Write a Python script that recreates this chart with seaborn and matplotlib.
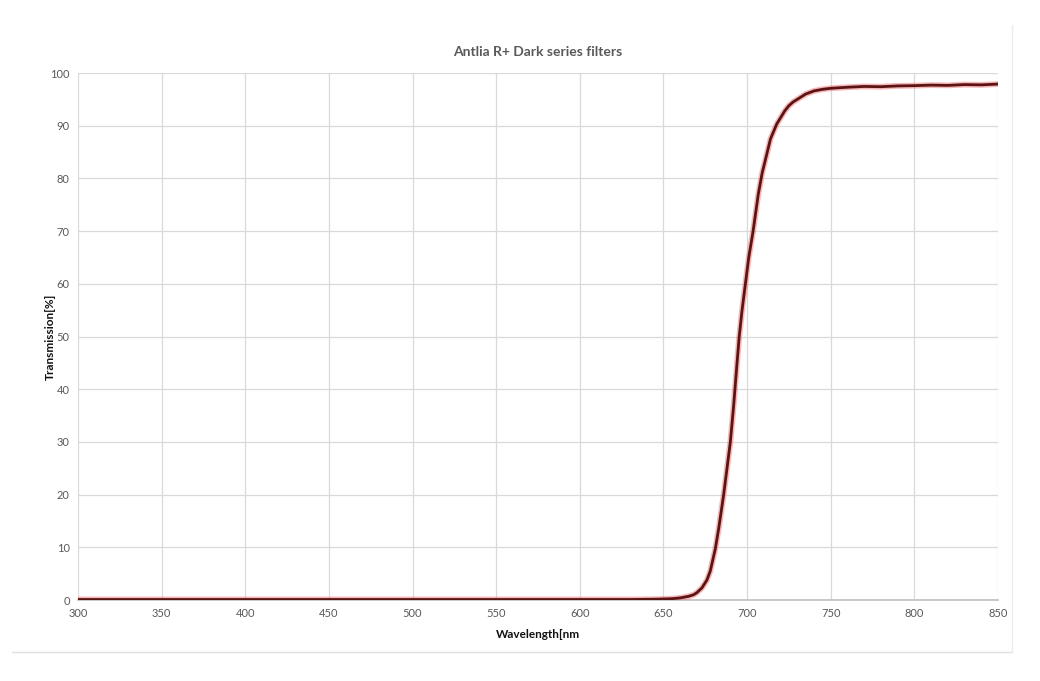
import matplotlib
matplotlib.use("Agg")
import matplotlib.pyplot as plt
import seaborn as sns
import pandas as pd
from matplotlib.lines import Line2D

wavelength = [300, 350, 400, 450, 500, 550, 600, 630, 645, 650, 655, 660, 665, 668, 670,
              673, 676, 678, 681, 683, 686, 688, 690, 692, 694, 695.3, 697, 699, 701,
              703.6, 706.7, 709, 711.7, 714, 717.7, 720, 722.5, 725, 727.5, 730, 735, 740, 745, 750,
              760, 770, 780, 790, 800, 810, 820, 830, 840, 850]
transmission = [0.1, 0.1, 0.1, 0.1, 0.1, 0.1, 0.1, 0.1, 0.15, 0.2, 0.25, 0.4, 0.7, 1.0, 1.4,
                2.3, 3.8, 5.5, 9.7, 13.5, 20, 25, 30, 37, 45, 50, 55, 60, 65,
                70, 77, 81, 84.5, 87.5, 90.3, 91.5, 92.8, 93.8, 94.5, 95, 96, 96.6, 96.9, 97.1,
                97.3, 97.45, 97.4, 97.55, 97.6, 97.7, 97.65, 97.8, 97.75, 97.9]
x_ticks = [300, 350, 400, 450, 500, 550, 600, 650, 700, 750, 800, 850]
y_ticks = [0, 10, 20, 30, 40, 50, 60, 70, 80, 90, 100]

df = pd.DataFrame({"Wavelength": wavelength, "Transmission": transmission})

sns.set_style("white")
plt.rcParams['font.family'] = ['Lato', 'DejaVu Sans']

fig = plt.figure(figsize=(10.4, 6.81), dpi=100)
ax = fig.add_axes([0.075, 0.1189, 0.8846, 0.7739])

sns.lineplot(data=df, x="Wavelength", y="Transmission", ax=ax,
             color="#f07070", linewidth=4.2, alpha=0.5, zorder=3)
sns.lineplot(data=df, x="Wavelength", y="Transmission", ax=ax,
             color="#5a1414", linewidth=2.0, zorder=4)

ax.set_xlim(300, 850)
ax.set_ylim(0, 100)
ax.set_xticks(x_ticks)
ax.set_yticks(y_ticks)
ax.grid(True, color="#d9d9d9", linewidth=0.9)
ax.set_axisbelow(True)
for s in ["top", "right", "left"]:
    ax.spines[s].set_visible(False)
ax.spines["bottom"].set_color("#bfbfbf")
ax.spines["bottom"].set_linewidth(1.2)
ax.tick_params(axis="both", length=0, labelsize=8, labelcolor="#595959", pad=6)

ax.set_xlabel("Wavelength[nm", fontsize=8.5, fontweight="bold", color="#111111", labelpad=7)
ax.set_ylabel("Transmission[%]", fontsize=8.5, fontweight="bold", color="#111111", labelpad=-4)
ax.set_title("Antlia R+ Dark series filters", fontsize=10, color="#595959",
             fontweight="bold", pad=12)

fig.add_artist(Line2D([12/1040, 1012/1040], [1-652/681, 1-652/681],
                      transform=fig.transFigure, color="#e0e0e0", linewidth=1))
fig.add_artist(Line2D([1012/1040, 1012/1040], [1-25/681, 1-652/681],
                      transform=fig.transFigure, color="#ececec", linewidth=1))

fig.savefig("out.png", dpi=100)
